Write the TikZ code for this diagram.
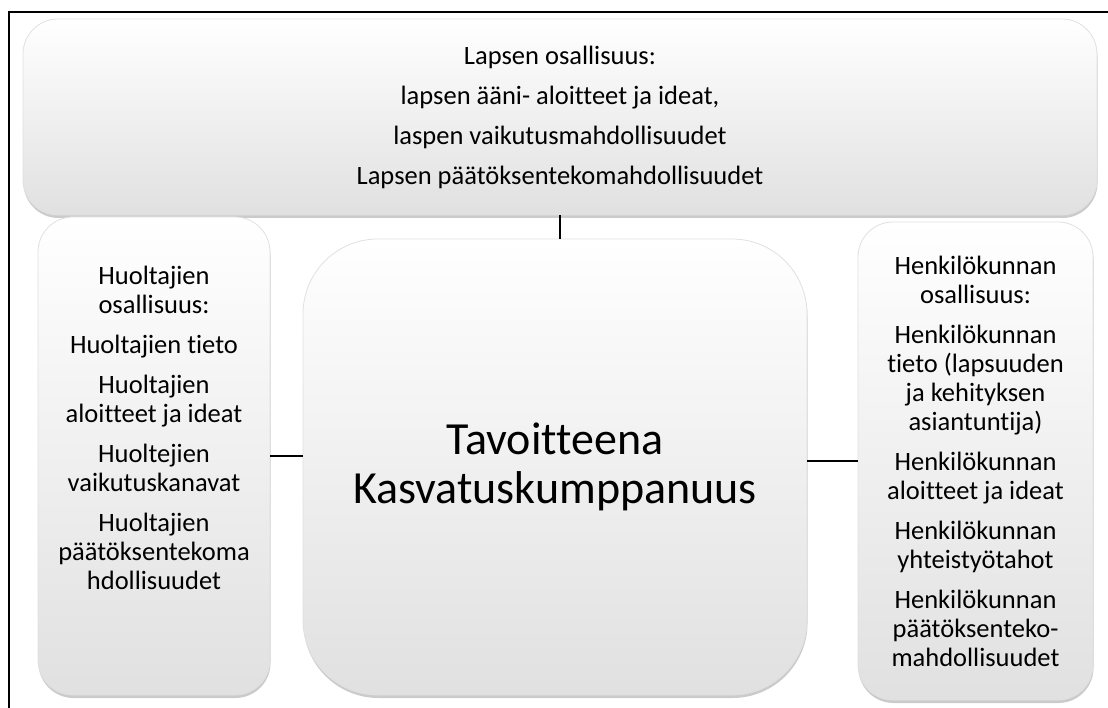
\documentclass[tikz,border=0pt]{standalone}
\usepackage{fontspec}
\setmainfont[Ligatures=NoCommon]{Carlito}
\usetikzlibrary{shadows}
\tikzset{
	osabox/.style={draw=black!12,line width=0.8pt,top color=white,middle color=white,bottom color=black!12,drop shadow={shadow xshift=0.5pt,shadow yshift=-3pt,fill=black!45,opacity=0.45},align=center,inner sep=0pt},%
	pieni/.style={rounded corners=35pt},%
	iso/.style={rounded corners=75pt},%
	teksti/.style={font=\fontsize{26.5}{29}\selectfont},%
	otsikko/.style={font=\fontsize{46}{49}\selectfont},%
	yhteys/.style={line width=1.5pt},%
	kehys/.style={line width=2pt},%
}
\begin{document}
\begin{tikzpicture}[x=1pt,y=-1pt]
		\useasboundingbox (0,0) rectangle (1108,708);
		% Frame {{{
		\draw[kehys] (9,712) -- (9,12) -- (1112,12);
		% }}}
		% Boxes {{{
		\node[osabox,pieni,teksti,minimum width=1074pt,minimum height=196pt] (lapsi) at (560,117) {Lapsen osallisuus:\\[11pt] lapsen ääni- aloitteet ja ideat,\\[11pt] laspen vaikutusmahdollisuudet\\[11pt] Lapsen päätöksentekomahdollisuudet};
		\node[osabox,pieni,minimum width=232pt,minimum height=478pt] (huoltajat) at (154,456) {};
		\node[teksti,align=center] (huoltajatTeksti) at (154,428) {Huoltajien\\ osallisuus:\\[11pt] Huoltajien tieto\\[11pt] Huoltajien\\ aloitteet ja ideat\\[11pt] Huoltejien\\ vaikutuskanavat\\[11pt] Huoltajien\\ päätöksentekoma\\ hdollisuudet};
		\node[osabox,iso,otsikko,minimum width=504pt,minimum height=456pt] (kumppanuus) at (555,467) {Tavoitteena\\ Kasvatuskumppanuus};
		\node[osabox,pieni,teksti,minimum width=235pt,minimum height=478pt] (henkilo) at (975.5,461) {Henkilökunnan\\ osallisuus:\\[11pt] Henkilökunnan\\ tieto (lapsuuden\\ ja kehityksen\\ asiantuntija)\\[11pt] Henkilökunnan\\ aloitteet ja ideat\\[11pt] Henkilökunnan\\ yhteistyötahot\\[11pt] Henkilökunnan\\ päätöksenteko-\\ mahdollisuudet};
		% }}}
		\draw[yhteys] (lapsi.south) -- (lapsi.south |- kumppanuus.north);
		\draw[yhteys] (huoltajat.east) -- (huoltajat.east -| kumppanuus.west);
		\draw[yhteys] (henkilo.west) -- (henkilo.west -| kumppanuus.east);
	\end{tikzpicture}
\end{document}
